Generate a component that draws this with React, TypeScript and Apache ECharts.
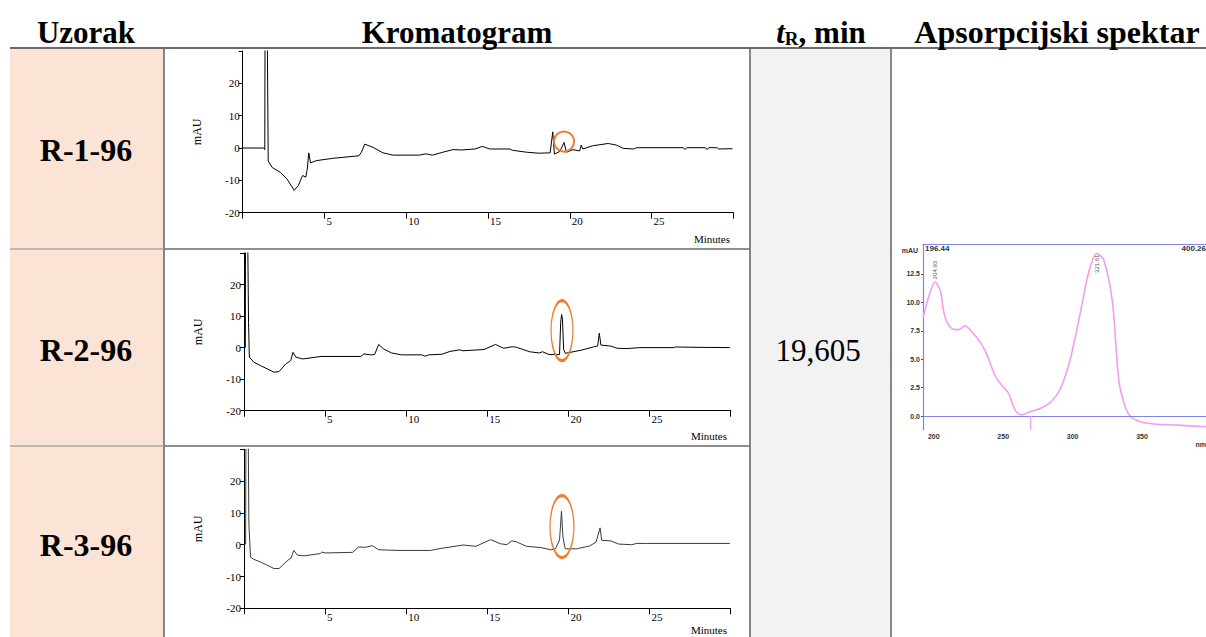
import React, { useEffect, useRef } from "react";
import * as echarts from "echarts";

const headerSample = "Uzorak";
const headerChrom = "Kromatogram";
const headerTime = "{i|t}{s|R}{b|, min}";
const headerSpectrum = "Apsorpcijski spektar";
const samples = ["R-1-96", "R-2-96", "R-3-96"];
const retentionTime = "19,605";
const axisTitleY = "mAU";
const axisTitleX = "Minutes";

// chromatogram traces: [minutes, mAU]
const chrom1: number[][] = [
  [0, 0], [1.3, 0], [1.35, -0.5], [1.37, 45], [1.49, 45], [1.56, -4], [1.8, -6], [2.3, -7.5], [2.7, -9.5],
  [3.15, -13.1], [3.4, -11.6], [3.66, -8.5], [3.86, -9], [3.95, -6.5], [4.04, -1.5], [4.15, -4.6], [4.5, -3.9],
  [5.5, -3.2], [7.1, -2.4], [7.26, -1.3], [7.46, 1.2], [7.97, 0.2], [8.58, -1.5], [9.2, -2.2], [10.8, -2.2],
  [11.2, -1.8], [11.6, -2.2], [12.24, -1.3], [12.85, -0.5], [13.4, -0.6], [14.2, -0.3], [14.66, 0.5],
  [15.1, -0.3], [16.35, -0.3], [16.5, -0.7], [17.37, -1.3], [18.08, -1.6], [18.8, -1.5], [18.96, 5],
  [19.06, -1.9], [19.4, -1.0], [19.65, 1.7], [19.8, -1.3], [20.2, -0.5], [20.6, -0.9], [20.7, 0.9],
  [20.8, -0.3], [21.4, 0.7], [22.35, 1.4], [22.86, 0.9], [23.26, -0.1], [23.9, -0.3], [24.1, 0.1],
  [26.95, 0.1], [27.05, -0.5], [27.15, 0.1], [28.3, 0.1], [28.4, -0.5], [28.5, 0.1], [29.0, 0.1],
  [29.1, -0.3], [29.95, -0.2],
];
const chrom2: number[][] = [
  [0, 0], [0.08, 0], [0.1, 50], [0.2, 50], [0.28, 8], [0.33, -3], [0.6, -4.6], [1.02, -5.7], [1.85, -7.8],
  [2.16, -7.6], [2.57, -5.2], [2.88, -4.1], [3.02, -1.5], [3.2, -3.0], [3.61, -3.6], [4.75, -2.8],
  [7.2, -2.8], [7.4, -2.0], [7.8, -2.3], [8.05, -2.2], [8.3, 1.0], [8.6, -0.4], [9.1, -1.7], [9.7, -2.3],
  [10.95, -2.3], [11.16, -2.7], [11.4, -2.3], [12.2, -2.1], [12.7, -1.2], [13.3, -0.7], [13.5, -1.0],
  [14.8, -0.6], [15.5, 1.0], [16.0, -0.2], [16.55, 0.3], [16.8, 0.1], [17.6, -1.3], [18.2, -1.7],
  [18.4, -1.3], [18.8, -2.2], [19.45, -2.2], [19.52, 8], [19.58, 10.5], [19.63, 9], [19.7, -0.5],
  [19.8, -1.8], [20.8, -0.8], [21.6, 0.3], [21.8, 0.5], [21.9, 4.6], [22.0, 0.8], [22.6, 0.5],
  [23.0, -0.2], [23.6, -0.3], [24.4, 0], [26.5, 0], [26.6, 0.2], [27.8, 0.1], [29.95, 0],
];
const chrom3: number[][] = [
  [0, 0], [0.1, 0.2], [0.13, 50], [0.24, 50], [0.3, 6.6], [0.4, -3.9], [0.6, -4.6], [1.0, -5.4], [1.85, -7.5],
  [2.16, -7.5], [2.7, -4.9], [2.9, -4.2], [3.07, -1.8], [3.3, -3.3], [3.7, -3.5], [4.7, -2.8], [4.8, -2.3],
  [5.0, -2.6], [6.7, -2.4], [7.05, -0.75], [7.5, -0.8], [7.9, -0.3], [8.3, -1.6], [9.5, -1.8], [11.5, -1.8],
  [12.2, -1.1], [12.7, -0.75], [13.5, -0.1], [14.3, -0.5], [15.2, 1.6], [15.8, 0.3], [16.2, 0.0],
  [16.5, 1.2], [16.8, 0.9], [17.4, -0.5], [18.3, -0.9], [18.9, -1.6], [19.2, -1.3], [19.45, 1.5],
  [19.57, 10.5], [19.66, 2.4], [19.8, -1.3], [20.5, -1.3], [21.3, -0.4], [21.7, 0.8], [21.95, 5.3],
  [22.05, 1.4], [22.6, 1.2], [23.1, 0.2], [23.9, 0.0], [24.2, 0.4], [24.8, 0.4], [29.95, 0.4],
];
const chromatograms = [chrom1, chrom2, chrom3];
const chromColors = ["#000000", "#000000", "#3a3a3a"];
// highlighted peak (19.6 min): centre [min, mAU] and marker size
const peakCentres: number[][] = [[19.65, 2], [19.6, 5.4], [19.6, 5.7]];
const peakSizes: number[][] = [[20, 20], [22, 60], [24, 62]];

// absorption spectrum
const spectrumNm = [196.44, 200.3, 205, 208.7, 212.3, 217.2, 222, 226.8, 230.4, 237.6, 242.5, 248.5, 253.3,
  258.1, 262.9, 267.7, 273.8, 282.2, 289.4, 295.4, 302.7, 309.9, 315.9, 321.6, 326.7, 332.8, 337.6, 342.4,
  346, 353.2, 362.8, 379.7, 400.26];
const spectrumAbs = [8.6, 10.4, 11.8, 11.1, 8.7, 7.7, 7.6, 7.95, 7.6, 6.5, 5.4, 3.5, 2.7, 2.0, 0.5, 0.1, 0.4,
  0.73, 1.35, 2.4, 5.1, 9.2, 12.7, 14.3, 13.7, 10.1, 3.0, 0.7, -0.05, -0.5, -0.7, -0.8, -0.95];
const spectrumPeakLabels = [{ nm: 204.93, at: 12.85, text: "204.93" }, { nm: 321.61, at: 13.4, text: "321.61" }];
const spectrumCursorNm = 273.8;
const spectrumYTicks = [0, 2.5, 5, 7.5, 10, 12.5];
const spectrumXTicks = [200, 250, 300, 350];
const spectrumRange = { xMin: 196.44, xMax: 400.26, yMin: -1.23, yMax: 15.14 };

const SERIF = "'Liberation Serif', 'Times New Roman', serif";
const SANS = "'Liberation Sans', Arial, sans-serif";

const chromGrids = [
  { left: 242.7, top: 51, width: 490.6, height: 161.7 },
  { left: 244, top: 253, width: 486.7, height: 157.7 },
  { left: 244, top: 449.3, width: 486.7, height: 159 },
];
const minutesPos = [[730, 239], [727, 436], [727, 630]];

export default function App() {
  const ref = useRef<HTMLDivElement>(null);
  useEffect(() => {
    if (!ref.current) return;
    const chart = echarts.init(ref.current, undefined, { renderer: "svg" });

    const grids: any[] = chromGrids.map((g) => ({ ...g, containLabel: false }));
    grids.push({ left: 923, top: 244, width: 283, height: 186, containLabel: false });

    const xAxes: any[] = chromGrids.map((_, i) => ({
      type: "value", gridIndex: i, min: 0, max: 30, interval: 5,
      axisLine: { show: true, onZero: false, lineStyle: { color: "#000", width: 1 } },
      axisTick: { show: true, length: 6, lineStyle: { color: "#000" } },
      axisLabel: {
        show: true, align: "left", margin: 3, padding: [0, 0, 0, 2], color: "#000",
        fontFamily: SERIF, fontSize: 11,
        formatter: (v: number) => (v === 0 || v === 30 ? "" : String(v)),
      },
      splitLine: { show: false },
    }));
    xAxes.push({
      type: "value", gridIndex: 3, min: spectrumRange.xMin, max: spectrumRange.xMax,
      axisLine: { show: false, onZero: false },
      axisTick: { show: false },
      axisLabel: {
        show: true, customValues: spectrumXTicks, align: "left", margin: 3, color: "#333",
        fontFamily: SANS, fontSize: 7, fontWeight: "bold",
      },
      splitLine: { show: false },
    });
    xAxes.push({
      type: "value", gridIndex: 3, position: "top", min: spectrumRange.xMin, max: spectrumRange.xMax,
      axisLine: { show: true, onZero: false, lineStyle: { color: "#8383f0", width: 1.2 } },
      axisTick: { show: false }, axisLabel: { show: false }, splitLine: { show: false },
    });

    const yAxes: any[] = chromGrids.map((_, i) => ({
      type: "value", gridIndex: i, min: -20, max: 30, interval: 10,
      name: axisTitleY, nameLocation: "middle", nameGap: 40, nameRotate: 90,
      nameTextStyle: { fontFamily: SERIF, fontSize: 12, color: "#000" },
      axisLine: { show: true, onZero: false, lineStyle: { color: "#000", width: 1 } },
      axisTick: { show: true, length: 4, lineStyle: { color: "#000" } },
      axisLabel: {
        show: true, margin: 3, color: "#000", fontFamily: SERIF, fontSize: 11,
        formatter: (v: number) => (v === 30 ? "" : String(v)),
      },
      splitLine: { show: false },
    }));
    yAxes.push({
      type: "value", gridIndex: 3, min: spectrumRange.yMin, max: spectrumRange.yMax,
      axisLine: { show: true, onZero: false, lineStyle: { color: "#8383f0", width: 1.2 } },
      axisTick: { show: true, customValues: spectrumYTicks, length: 2, lineStyle: { color: "#555" } },
      axisLabel: {
        show: true, customValues: spectrumYTicks, margin: 3, color: "#333", fontFamily: SANS,
        fontSize: 7, fontWeight: "bold", formatter: (v: number) => v.toFixed(1),
      },
      splitLine: { show: false },
    });

    const series: any[] = chromatograms.map((data, i) => ({
      type: "line", xAxisIndex: i, yAxisIndex: i, data, showSymbol: false, symbol: "none",
      clip: true, lineStyle: { color: chromColors[i], width: 1 }, silent: true,
      markPoint: {
        silent: true, symbol: "circle", symbolSize: peakSizes[i],
        itemStyle: { color: "rgba(0,0,0,0)", borderColor: "#ED7D31", borderWidth: 2 },
        label: { show: false },
        data: [{ coord: peakCentres[i] }],
      },
    }));
    series.push({
      type: "line", xAxisIndex: 3, yAxisIndex: 3,
      data: spectrumNm.map((nm, i) => [nm, spectrumAbs[i]]),
      showSymbol: false, symbol: "none", smooth: 0.3, clip: true, silent: true,
      lineStyle: { color: "#f59af5", width: 1.6 },
      markLine: {
        silent: true, symbol: ["none", "none"], label: { show: false },
        data: [
          { yAxis: 0, lineStyle: { color: "#8383f0", width: 1.2, type: "solid" } },
          [
            { coord: [spectrumCursorNm, 0], lineStyle: { color: "#f59af5", width: 1.2, type: "solid" } },
            { coord: [spectrumCursorNm, spectrumRange.yMin] },
          ],
        ],
      },
      markPoint: {
        silent: true, symbol: "circle", symbolSize: 0,
        label: { show: true, position: "inside", rotate: 90, color: "#555", fontFamily: SANS, fontSize: 6 },
        data: spectrumPeakLabels.map((p) => ({ coord: [p.nm, p.at], label: { formatter: p.text } })),
      },
    });

    const line = (x1: number, y1: number, x2: number, y2: number, color: string, w: number) => ({
      type: "line", silent: true, z: 1, shape: { x1, y1, x2, y2 }, style: { stroke: color, lineWidth: w },
    });
    const txt = (x: number, y: number, text: string, font: string, align = "center", extra: any = {}) => ({
      type: "text", silent: true, z: 5, x, y,
      style: { text, font, fill: "#000", align, verticalAlign: "middle", textAlign: align, textVerticalAlign: "middle", ...extra },
    });

    const headFont = `bold 31px ${SERIF}`;
    const rowFont = `bold 32px ${SERIF}`;
    const graphic: any[] = [
      { type: "rect", silent: true, z: 0, shape: { x: 10, y: 48, width: 154, height: 589 }, style: { fill: "#FBE4D5" } },
      { type: "rect", silent: true, z: 0, shape: { x: 750, y: 48, width: 141, height: 589 }, style: { fill: "#F2F2F2" } },
      line(10, 48, 1206, 48, "#6a6a6a", 2),
      line(164, 48, 164, 637, "#6a6a6a", 1.6),
      line(750, 48, 750, 637, "#6a6a6a", 1.6),
      line(891, 48, 891, 637, "#6a6a6a", 1.6),
      line(10, 249, 164, 249, "#a8a8a8", 1.4),
      line(164, 249, 750, 249, "#6a6a6a", 1.4),
      line(10, 446, 164, 446, "#a8a8a8", 1.4),
      line(164, 446, 750, 446, "#6a6a6a", 1.4),
      txt(86, 32, headerSample, headFont),
      txt(457, 32, headerChrom, headFont),
      {
        type: "text", silent: true, z: 5, x: 821, y: 32,
        style: {
          text: headerTime, align: "center", verticalAlign: "middle", textAlign: "center", textVerticalAlign: "middle",
          rich: {
            i: { fontFamily: SERIF, fontSize: 31, fontWeight: "bold", fontStyle: "italic", fill: "#000", color: "#000" },
            s: { fontFamily: SERIF, fontSize: 19, fontWeight: "bold", fill: "#000", color: "#000", padding: [12, 0, 0, 0] },
            b: { fontFamily: SERIF, fontSize: 31, fontWeight: "bold", fill: "#000", color: "#000" },
          },
        },
      },
      txt(1057, 32, headerSpectrum, `bold 32px ${SERIF}`),
      txt(86, 150, samples[0], rowFont),
      txt(86, 350, samples[1], rowFont),
      txt(86, 545, samples[2], rowFont),
      txt(818, 350, retentionTime, `31px ${SERIF}`),
      ...minutesPos.map((p) => txt(p[0], p[1], axisTitleX, `11px ${SERIF}`, "right")),
      txt(918, 250, "mAU", `bold 7px ${SANS}`, "right", { fill: "#333" }),
      txt(925, 248, "196.44", `bold 8px ${SANS}`, "left", { fill: "#333" }),
      txt(1206, 248, "400.26", `bold 8px ${SANS}`, "right", { fill: "#333" }),
      txt(1206, 444, "nm", `bold 7px ${SANS}`, "right", { fill: "#333" }),
    ];

    chart.setOption({
      animation: false,
      backgroundColor: "#ffffff",
      grid: grids,
      xAxis: xAxes,
      yAxis: yAxes,
      series,
      graphic,
    });
    return () => chart.dispose();
  }, []);

  return <div ref={ref} style={{ position: "absolute", left: 0, top: 0, width: 1206, height: 637 }} />;
}
